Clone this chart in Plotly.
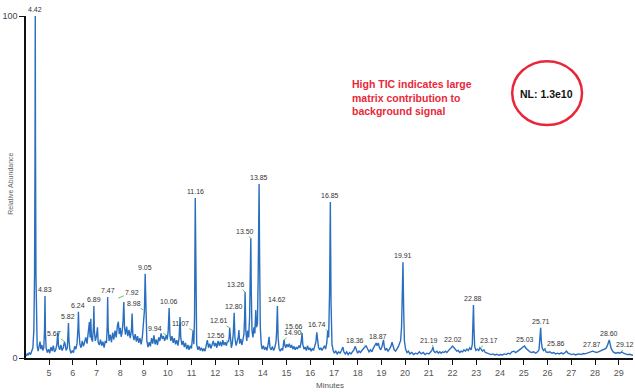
import plotly.graph_objects as go

# ---- chromatogram trace ----
minutes = [
    4.03, 4.08, 4.12, 4.17, 4.22, 4.27, 4.32, 4.36, 4.39, 4.41, 4.42, 4.43, 4.45, 4.47, 4.50, 4.54, 4.58, 4.62, 4.66, 4.70,
    4.74, 4.78, 4.81, 4.83, 4.85, 4.88, 4.93, 4.98, 5.03, 5.08, 5.13, 5.18, 5.23, 5.28, 5.33, 5.37, 5.40, 5.45, 5.50, 5.55,
    5.60, 5.65, 5.68, 5.72, 5.77, 5.80, 5.82, 5.84, 5.88, 5.93, 5.98, 6.03, 6.08, 6.13, 6.18, 6.22, 6.24, 6.26, 6.30, 6.35,
    6.40, 6.45, 6.50, 6.55, 6.60, 6.65, 6.70, 6.73, 6.76, 6.79, 6.83, 6.87, 6.89, 6.91, 6.95, 7.00, 7.04, 7.07, 7.12, 7.17,
    7.22, 7.27, 7.32, 7.37, 7.42, 7.45, 7.47, 7.49, 7.53, 7.58, 7.63, 7.68, 7.73, 7.78, 7.83, 7.88, 7.92, 7.96, 8.00, 8.04,
    8.08, 8.12, 8.15, 8.18, 8.22, 8.27, 8.32, 8.37, 8.42, 8.47, 8.50, 8.53, 8.58, 8.63, 8.68, 8.73, 8.78, 8.83, 8.88, 8.93,
    8.98, 9.02, 9.05, 9.08, 9.12, 9.17, 9.22, 9.27, 9.32, 9.37, 9.42, 9.47, 9.52, 9.57, 9.62, 9.67, 9.72, 9.77, 9.82, 9.87,
    9.91, 9.94, 9.98, 10.02, 10.06, 10.09, 10.13, 10.18, 10.23, 10.28, 10.33, 10.38, 10.43, 10.48, 10.52, 10.55, 10.60, 10.65, 10.70, 10.75,
    10.80, 10.85, 10.90, 10.95, 11.00, 11.04, 11.07, 11.10, 11.13, 11.16, 11.19, 11.22, 11.27, 11.32, 11.37, 11.42, 11.47, 11.52, 11.57, 11.62,
    11.67, 11.72, 11.77, 11.82, 11.87, 11.92, 11.97, 12.02, 12.07, 12.12, 12.17, 12.22, 12.27, 12.32, 12.37, 12.42, 12.47, 12.52, 12.56, 12.59,
    12.61, 12.64, 12.68, 12.72, 12.76, 12.80, 12.83, 12.88, 12.93, 12.97, 13.00, 13.03, 13.08, 13.12, 13.17, 13.21, 13.24, 13.26, 13.29, 13.33,
    13.37, 13.41, 13.45, 13.48, 13.50, 13.52, 13.55, 13.59, 13.63, 13.67, 13.71, 13.74, 13.78, 13.81, 13.85, 13.87, 13.90, 13.94, 13.98, 14.03,
    14.08, 14.13, 14.18, 14.23, 14.27, 14.31, 14.36, 14.41, 14.46, 14.51, 14.56, 14.59, 14.62, 14.65, 14.69, 14.74, 14.79, 14.84, 14.88, 14.90,
    14.93, 14.97, 15.02, 15.07, 15.12, 15.17, 15.22, 15.27, 15.32, 15.37, 15.42, 15.47, 15.52, 15.57, 15.62, 15.66, 15.69, 15.74, 15.79, 15.84,
    15.89, 15.94, 15.99, 16.04, 16.09, 16.14, 16.19, 16.24, 16.28, 16.31, 16.35, 16.40, 16.45, 16.50, 16.55, 16.60, 16.65, 16.70, 16.74, 16.78,
    16.82, 16.85, 16.88, 16.92, 16.97, 17.02, 17.08, 17.14, 17.20, 17.26, 17.32, 17.38, 17.42, 17.48, 17.54, 17.60, 17.66, 17.72, 17.78, 17.84,
    17.90, 17.95, 18.00, 18.06, 18.12, 18.18, 18.24, 18.30, 18.36, 18.42, 18.48, 18.54, 18.60, 18.66, 18.72, 18.78, 18.82, 18.87, 18.92, 18.97,
    19.02, 19.06, 19.09, 19.12, 19.17, 19.22, 19.28, 19.34, 19.40, 19.45, 19.49, 19.54, 19.60, 19.66, 19.72, 19.77, 19.81, 19.85, 19.88, 19.91,
    19.94, 19.97, 20.02, 20.08, 20.14, 20.20, 20.28, 20.36, 20.44, 20.52, 20.60, 20.68, 20.76, 20.84, 20.92, 21.00, 21.08, 21.14, 21.17, 21.21,
    21.27, 21.34, 21.40, 21.46, 21.52, 21.58, 21.64, 21.70, 21.76, 21.82, 21.88, 21.94, 22.00, 22.06, 22.12, 22.18, 22.24, 22.30, 22.36, 22.42,
    22.48, 22.54, 22.60, 22.66, 22.72, 22.78, 22.83, 22.86, 22.88, 22.90, 22.93, 22.98, 23.04, 23.10, 23.15, 23.20, 23.26, 23.32, 23.38, 23.46,
    23.54, 23.62, 23.70, 23.78, 23.86, 23.94, 24.02, 24.10, 24.18, 24.26, 24.34, 24.42, 24.50, 24.58, 24.66, 24.74, 24.82, 24.90, 24.96, 25.03,
    25.10, 25.18, 25.26, 25.34, 25.42, 25.50, 25.58, 25.64, 25.68, 25.71, 25.74, 25.78, 25.83, 25.88, 25.94, 26.02, 26.10, 26.18, 26.26, 26.34,
    26.42, 26.50, 26.58, 26.66, 26.74, 26.80, 26.86, 26.94, 27.02, 27.10, 27.18, 27.26, 27.34, 27.42, 27.50, 27.58, 27.66, 27.74, 27.82, 27.90,
    27.98, 28.06, 28.14, 28.22, 28.30, 28.38, 28.46, 28.52, 28.56, 28.60, 28.64, 28.68, 28.74, 28.80, 28.88, 28.96, 29.04, 29.12, 29.20, 29.28,
    29.36, 29.44, 29.52, 29.60,
]

abundance = [
    0.5, 1.2, 0.8, 1.6, 1.0, 1.8, 3.0, 8.0, 24.0, 60.0, 100.0, 62.0, 24.0, 9.0, 3.5, 2.0, 3.2, 4.8, 2.6, 3.8,
    2.2, 3.0, 8.0, 18.1, 7.0, 2.8, 1.6, 2.6, 1.4, 3.2, 2.0, 3.6, 1.8, 2.4, 4.0, 7.5, 3.5, 2.4, 3.8, 2.2,
    3.0, 4.7, 4.0, 2.2, 3.0, 6.5, 10.2, 5.0, 2.4, 1.4, 2.2, 1.6, 3.4, 2.6, 4.2, 9.0, 13.5, 8.0, 4.0, 3.0,
    5.0, 3.4, 4.6, 6.0, 4.2, 7.0, 10.5, 6.0, 11.5, 5.5, 4.8, 9.0, 15.2, 8.0, 5.0, 6.5, 9.0, 4.6, 3.8, 5.4,
    3.6, 4.8, 3.0, 5.0, 4.4, 9.0, 17.8, 9.0, 5.0, 6.8, 4.6, 7.4, 5.4, 8.0, 6.0, 9.4, 10.6, 7.0, 8.8, 6.2,
    7.6, 11.0, 16.4, 9.0, 6.8, 9.2, 6.4, 8.2, 5.8, 8.0, 13.0, 7.0, 5.2, 7.0, 4.8, 6.4, 4.4, 5.8, 4.0, 6.0,
    9.4, 14.0, 24.6, 11.0, 5.0, 3.2, 4.6, 3.4, 5.8, 4.2, 6.6, 4.0, 5.4, 3.8, 6.0, 5.0, 7.2, 5.6, 6.4, 5.0,
    6.2, 6.7, 5.4, 8.0, 14.6, 7.0, 5.0, 6.4, 4.4, 5.8, 4.0, 5.2, 3.6, 6.0, 12.0, 5.8, 3.8, 5.0, 3.2, 4.4,
    2.6, 3.8, 2.4, 3.6, 2.8, 5.0, 8.0, 4.0, 12.0, 46.8, 14.0, 4.0, 2.4, 3.4, 2.2, 3.0, 2.0, 2.8, 2.0, 3.6,
    5.2, 3.0, 4.2, 2.8, 3.8, 5.0, 3.4, 4.4, 3.0, 5.0, 3.6, 4.8, 3.4, 5.2, 3.8, 4.6, 3.6, 5.0, 4.7, 6.0,
    8.8, 5.0, 3.0, 4.2, 7.0, 13.2, 6.0, 3.6, 4.8, 6.0, 8.2, 4.2, 5.6, 3.8, 5.4, 7.0, 12.0, 19.3, 8.0, 5.0,
    8.0, 6.0, 12.0, 22.0, 35.0, 20.0, 8.0, 6.0, 9.0, 7.2, 14.0, 9.0, 10.0, 24.0, 50.9, 30.0, 9.0, 4.0, 2.6, 3.6,
    2.4, 3.2, 2.2, 4.0, 6.2, 3.0, 2.4, 3.4, 2.2, 3.0, 4.6, 8.0, 15.2, 6.0, 2.8, 2.0, 2.8, 2.2, 3.6, 5.3,
    3.8, 3.0, 4.0, 3.2, 4.2, 3.0, 3.8, 2.6, 3.4, 2.4, 3.2, 2.6, 3.6, 3.0, 4.6, 7.3, 4.0, 2.6, 3.2, 2.2,
    3.6, 2.4, 3.0, 2.0, 2.8, 2.2, 3.4, 4.6, 7.5, 5.0, 3.2, 2.4, 3.0, 2.2, 2.8, 3.6, 2.6, 4.4, 8.0, 6.0,
    20.0, 45.6, 16.0, 4.0, 2.2, 1.4, 2.0, 1.2, 1.8, 1.4, 2.2, 3.2, 1.8, 1.2, 1.8, 1.0, 1.6, 1.2, 1.8, 2.4,
    3.4, 2.0, 1.4, 2.0, 1.6, 2.2, 2.8, 3.2, 3.5, 2.6, 1.8, 2.4, 1.8, 2.8, 3.6, 4.4, 3.6, 4.4, 3.0, 2.4,
    3.2, 4.6, 5.3, 3.4, 2.2, 2.8, 2.0, 2.6, 3.4, 4.6, 3.2, 2.4, 2.0, 2.6, 3.4, 4.4, 5.0, 9.0, 18.0, 28.0,
    14.0, 5.0, 2.6, 1.6, 2.0, 1.2, 1.6, 1.0, 1.4, 1.2, 1.8, 1.2, 1.6, 1.0, 1.4, 1.2, 1.8, 2.4, 3.2, 2.0,
    1.6, 2.0, 1.4, 1.8, 1.4, 1.8, 1.6, 2.0, 1.6, 2.2, 2.6, 3.0, 3.5, 3.0, 2.4, 2.0, 2.2, 1.6, 2.0, 1.8,
    2.4, 2.0, 2.6, 2.2, 3.0, 2.4, 4.0, 10.0, 15.5, 9.0, 3.4, 2.2, 2.6, 2.2, 3.0, 2.6, 2.0, 2.4, 1.6, 1.4,
    1.2, 1.0, 1.2, 0.9, 1.1, 0.8, 1.0, 0.9, 1.2, 1.0, 1.4, 1.2, 1.8, 2.0, 1.6, 2.0, 2.2, 2.8, 3.2, 3.5,
    2.8, 2.2, 1.8, 1.6, 1.8, 1.4, 1.8, 2.4, 5.0, 8.8, 4.6, 2.8, 2.2, 2.6, 1.8, 1.6, 1.8, 1.4, 1.6, 1.2,
    1.4, 1.2, 1.5, 1.2, 1.6, 2.0, 1.4, 1.2, 1.0, 1.2, 0.9, 1.1, 1.2, 1.0, 1.3, 1.2, 1.4, 1.6, 1.8, 2.0,
    1.8, 1.6, 1.8, 2.0, 2.2, 2.4, 2.8, 3.6, 4.6, 5.3, 4.0, 2.8, 2.0, 1.6, 1.4, 1.6, 1.4, 1.8, 1.4, 1.2,
    1.0, 1.1, 0.9, 0.8,
]

# ---- peak labels (retention time label, apex height) ----
peak_labels = ["4.42", "4.83", "5.67", "5.82", "6.24", "6.89", "7.47", "7.92", "8.98", "9.05",
               "9.94", "10.06", "11.07", "11.16", "12.56", "12.61", "12.80", "13.26", "13.50", "13.85",
               "14.62", "14.90", "15.66", "16.74", "16.85", "18.36", "18.87", "19.91", "21.19", "22.02",
               "22.88", "23.17", "25.03", "25.71", "25.86", "27.87", "28.60", "29.12"]
peak_heights = [100.0, 18.1, 4.7, 10.2, 13.5, 15.2, 17.8, 17.5, 14.0, 24.6,
                6.7, 14.6, 8.0, 46.8, 4.7, 8.8, 13.2, 19.3, 35.0, 50.9,
                15.2, 5.3, 7.3, 8.0, 45.6, 3.5, 4.4, 28.0, 3.2, 3.5,
                15.5, 3.0, 3.5, 8.8, 2.6, 2.0, 5.3, 1.8]

# labels drawn with a green leader line: offset of the text (px)
leader_offsets = {
    "5.67": (-11, -8), "7.92": (14, -6), "8.98": (-10, -7), "9.94": (-11, -7),
    "11.07": (-13, -7), "12.56": (-12, -6), "12.61": (-11, -7), "13.26": (-9, -7),
    "13.50": (-6, -7), "14.90": (9, -7), "15.66": (-8, -7), "16.74": (-11, -6),
    "18.36": (-11, -6), "21.19": (-4, -7), "23.17": (9, -7), "25.86": (12, -6),
    "29.12": (3, -7),
}

x_ticks = list(range(5, 30))

LINE_BLUE = "#2a6fbf"
RED = "#e8283a"
FONT = "Liberation Sans, Arial"

fig = go.Figure()
fig.add_trace(go.Scatter(
    x=minutes, y=abundance, mode="lines",
    line=dict(color=LINE_BLUE, width=1.4),
    hoverinfo="x+y", showlegend=False, cliponaxis=False,
))

annotations = []
for lab, h in zip(peak_labels, peak_heights):
    t = float(lab)
    if lab in leader_offsets:
        dx, dy = leader_offsets[lab]
        annotations.append(dict(
            x=t, y=h, xref="x", yref="y", text=lab,
            showarrow=True, arrowhead=0, arrowwidth=1, arrowcolor="#5cc45c",
            ax=dx, ay=dy, standoff=0,
            font=dict(family=FONT, size=7, color="#333333"),
        ))
    else:
        annotations.append(dict(
            x=t, y=h, xref="x", yref="y", text=lab, showarrow=False,
            yanchor="bottom", yshift=1,
            font=dict(family=FONT, size=7, color="#333333"),
        ))

annotations.append(dict(
    xref="paper", yref="paper", x=-0.026, y=0.51, text="Relative Abundance",
    textangle=-90, showarrow=False, xanchor="center", yanchor="middle",
    font=dict(family=FONT, size=7, color="#666666"),
))
annotations.append(dict(
    xref="paper", yref="paper", x=0.5, y=-0.079, text="Minutes",
    showarrow=False, xanchor="center", yanchor="middle",
    font=dict(family=FONT, size=8, color="#555555"),
))
annotations.append(dict(
    xref="paper", yref="paper", x=0.534, y=0.826, xanchor="left", yanchor="top",
    align="left", showarrow=False,
    text="<b>High TIC indicates large<br>matrix contribution to<br>background signal</b>",
    font=dict(family=FONT, size=10.5, color=RED),
))
annotations.append(dict(
    xref="paper", yref="paper", x=0.858, y=0.772, xanchor="center", yanchor="middle",
    showarrow=False, text="<b>NL: 1.3e10</b>",
    font=dict(family=FONT, size=10.5, color="#111111"),
))

fig.update_layout(
    width=635, height=392,
    margin=dict(l=26, r=2, t=16, b=34),
    paper_bgcolor="white", plot_bgcolor="white",
    annotations=annotations,
    shapes=[dict(type="circle", xref="paper", yref="paper",
                 x0=0.801, x1=0.916, y0=0.681, y1=0.868,
                 line=dict(color=RED, width=2.5))],
    xaxis=dict(
        range=[4.03, 29.6], tickvals=x_ticks, ticktext=[str(v) for v in x_ticks],
        automargin=False,
        showgrid=False, zeroline=False, showline=True, linecolor="#111111", linewidth=1.5,
        ticks="outside", ticklen=5, tickcolor="#111111", tickwidth=1,
        tickfont=dict(family=FONT, size=9, color="#555555"),
    ),
    yaxis=dict(
        range=[0, 100], tickvals=[0, 100], ticktext=["0", "100"],
        automargin=False,
        showgrid=False, zeroline=False, showline=True, linecolor="#111111", linewidth=1.5,
        ticks="outside", ticklen=5, tickcolor="#111111", tickwidth=1,
        tickfont=dict(family=FONT, size=9, color="#4a4058"),
    ),
)

fig.write_html("out.html", config={"displayModeBar": False},
               post_script="document.body.style.margin='0';")
